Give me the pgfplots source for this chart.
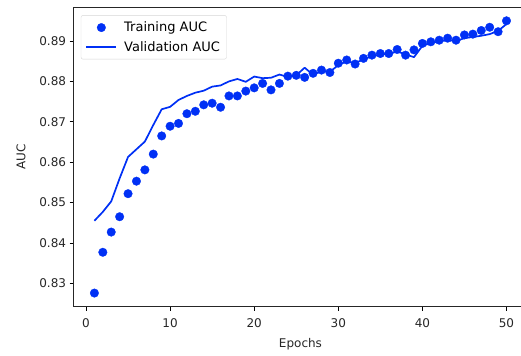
\documentclass[border=0pt]{standalone}
\usepackage{pgfplots}
\pgfplotsset{compat=1.18}
\usepackage{fontspec}
\setmainfont{DejaVu Sans}
\definecolor{mplblue}{RGB}{0,48,245}
\definecolor{legframe}{RGB}{214,214,214}
\pgfplotsset{
  dotlegend/.style={legend image code/.code={\draw[##1] plot coordinates {(15pt,0pt)};}},
  linelegend/.style={legend image code/.code={\draw[##1] (0pt,0pt) -- (30pt,0pt);}},
}
\begin{document}
\begin{tikzpicture}
\begin{axis}[
  scale only axis, width=453.3pt, height=299.5pt,
  xmin=-1.45, xmax=52.45, ymin=0.82423, ymax=0.89837,
  xtick={0,10,20,30,40,50},
  ytick={0.83,0.84,0.85,0.86,0.87,0.88,0.89},
  yticklabel style={/pgf/number format/.cd, fixed, fixed zerofill, precision=2},
  /pgf/number format/assume math mode=true,
  scaled y ticks=false,
  tick align=outside, tick pos=left, major tick length=4.2pt,
  tick style={black, line width=0.9pt},
  axis line style={line width=0.9pt, black!85},
  ticklabel style={font=\fontsize{12}{14}\selectfont, text=black!85},
  xticklabel style={yshift=-4pt},
  label style={font=\fontsize{12}{14}\selectfont, text=black!85},
  xlabel={Epochs}, ylabel={AUC},
  xlabel shift=4pt, ylabel shift=7pt,
  legend cell align=left,
  legend style={at={(0,1)}, anchor=north west, xshift=7pt, yshift=-8pt,
    draw=legframe, rounded corners=2pt, fill=white,
    font=\fontsize{13}{15}\selectfont, row sep=4pt, column sep=5pt, inner xsep=4.5pt, inner ysep=4.5pt},
]
\addplot[only marks, mark=*, mark size=4.3pt, mplblue, mark options={draw=mplblue, fill=mplblue, line width=0.3pt}, dotlegend]
  coordinates {
(1,0.8276)(2,0.8377)(3,0.8427)(4,0.8465)(5,0.8522)(6,0.8553)(7,0.8581)(8,0.8620)(9,0.8665)(10,0.8689)
(11,0.8696)(12,0.8720)(13,0.8726)(14,0.8742)(15,0.8746)(16,0.8736)(17,0.8764)(18,0.8764)(19,0.8776)(20,0.8784)
(21,0.8795)(22,0.8779)(23,0.8795)(24,0.8813)(25,0.8815)(26,0.8810)(27,0.8820)(28,0.8828)(29,0.8822)(30,0.8845)
(31,0.8853)(32,0.8843)(33,0.8857)(34,0.8865)(35,0.8869)(36,0.8869)(37,0.8879)(38,0.8865)(39,0.8878)(40,0.8894)
(41,0.8898)(42,0.8902)(43,0.8907)(44,0.8902)(45,0.8915)(46,0.8917)(47,0.8926)(48,0.8934)(49,0.8923)(50,0.8950)
  };
\addlegendentry{Training AUC}
\addplot[mplblue, line width=1.7pt, no marks, line join=round, linelegend]
  coordinates {
(1,0.8455)(2,0.8477)(3,0.8503)(4,0.8560)(5,0.8613)(6,0.8632)(7,0.8651)(8,0.8692)(9,0.8731)(10,0.8737)
(11,0.8754)(12,0.8764)(13,0.8772)(14,0.8777)(15,0.8787)(16,0.8790)(17,0.8800)(18,0.8806)(19,0.8799)(20,0.8812)
(21,0.8808)(22,0.8809)(23,0.8817)(24,0.8811)(25,0.8815)(26,0.8834)(27,0.8816)(28,0.8826)(29,0.8824)(30,0.8840)
(31,0.8850)(32,0.8845)(33,0.8855)(34,0.8862)(35,0.8866)(36,0.8868)(37,0.8874)(38,0.8867)(39,0.8860)(40,0.8888)
(41,0.8895)(42,0.8899)(43,0.8902)(44,0.8900)(45,0.8907)(46,0.8910)(47,0.8913)(48,0.8917)(49,0.8925)(50,0.8942)
  };
\addlegendentry{Validation AUC}
\coordinate (bbl) at (axis cs:-10.226,0.81203);
\coordinate (btr) at (axis cs:51.724,0.90015);
\end{axis}
\pgfresetboundingbox
\useasboundingbox (bbl) rectangle (btr);
\end{tikzpicture}
\end{document}
